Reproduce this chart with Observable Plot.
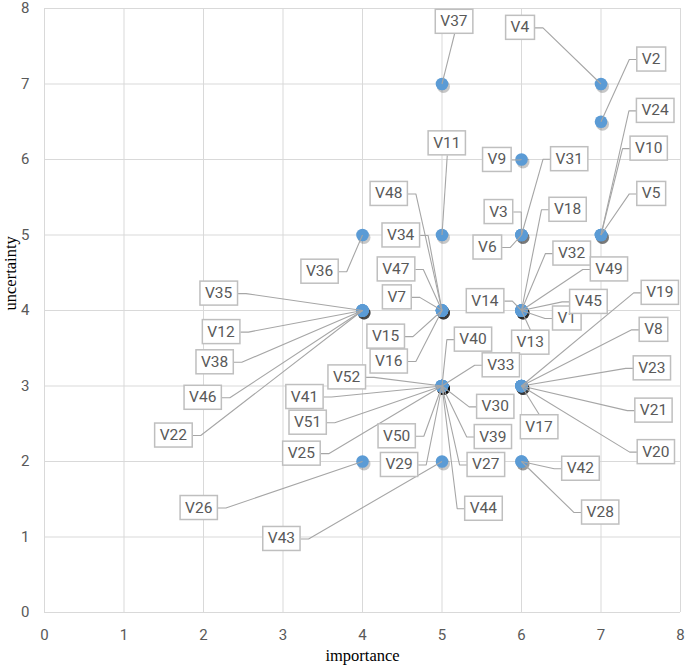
<!DOCTYPE html>
<html><head><meta charset="utf-8">
<script src="https://cdn.jsdelivr.net/npm/d3@7"></script>
<script src="https://cdn.jsdelivr.net/npm/@observablehq/plot@0.6"></script>
<style>body{margin:0;background:#fff} #chart svg{display:block}</style>
</head><body><div id="chart"></div>
<script>
const names = ["V1","V2","V3","V4","V5","V6","V7","V8","V9","V10","V11","V12","V13","V14","V15","V16","V17","V18","V19","V20","V21","V22","V23","V24","V25","V26","V27","V28","V29","V30","V31","V32","V33","V34","V35","V36","V37","V38","V39","V40","V41","V42","V43","V44","V45","V46","V47","V48","V49","V50","V51","V52"];
const importance = [6,7,6,7,7,6,5,6,6,7,5,4,6,6,5,5,6,6,6,6,6,4,6,7,5,4,5,6,5,5,6,6,5,5,4,4,5,4,5,5,5,6,5,5,6,4,5,5,6,5,5,5];
const uncertainty = [4,6.5,5,7,5,5,4,3,6,5,5,4,4,4,4,4,3,4,3,3,3,4,3,5,3,2,3,2,3,3,5,4,3,4,4,5,7,4,3,3,3,2,2,3,4,4,4,4,4,3,3,3];
// label anchor positions (in data units)
const labelX = [6.57,7.63,5.71,5.98,7.63,5.57,4.43,7.66,5.69,7.60,5.06,2.22,6.11,5.54,4.29,4.33,6.22,6.58,7.74,7.69,7.66,1.62,7.64,7.68,3.23,1.94,5.55,6.99,4.46,5.67,6.60,6.63,5.74,4.48,2.19,3.46,5.15,2.14,5.64,5.39,3.27,6.74,2.98,5.52,6.84,1.99,4.42,4.33,7.10,4.43,3.31,3.80];
const labelY = [3.90,7.33,5.31,7.75,5.55,4.84,4.18,3.75,6.00,6.15,6.22,3.72,3.58,4.13,3.66,3.33,2.46,5.34,4.24,2.13,2.68,2.35,3.24,6.65,2.11,1.39,1.96,1.33,1.96,2.73,6.01,4.76,3.28,5.00,4.23,4.52,7.83,3.32,2.33,3.62,2.86,1.91,0.98,1.38,4.12,2.85,4.55,5.55,4.55,2.34,2.52,3.12];
const xTicks = [0,1,2,3,4,5,6,7,8];
const yTicks = [0,1,2,3,4,5,6,7,8];
const xTitle = "importance";
const yTitle = "uncertainty";

const data = names.map((name, i) => ({name, x: importance[i], y: uncertainty[i], lx: labelX[i], ly: labelY[i]}));

const chart = Plot.plot({
  width: 685, height: 669,
  marginLeft: 44, marginRight: 5, marginTop: 8, marginBottom: 57,
  style: {fontFamily: "Roboto, sans-serif", background: "#fff"},
  x: {domain: [0, 8]},
  y: {domain: [0, 8]},
  marks: [
    Plot.gridX(xTicks, {stroke: "#d9d9d9", strokeOpacity: 1, strokeWidth: 1}),
    Plot.gridY(yTicks, {stroke: "#d9d9d9", strokeOpacity: 1, strokeWidth: 1}),
    Plot.axisX(xTicks, {tickSize: 0, tickPadding: 17, label: null, fontSize: 15, fill: "#595959", tickFormat: d3.format("d")}),
    Plot.axisY(yTicks, {tickSize: 0, tickPadding: 15, label: null, fontSize: 15, fill: "#595959", tickFormat: d3.format("d")}),
    Plot.dot(data, {x: "x", y: "y", r: 6.5, fill: "#000", fillOpacity: 0.22, dx: 1.5, dy: 2.5}),
    Plot.dot(data, {x: "x", y: "y", r: 6.3, fill: "#5b9bd5"}),
    Plot.link(data, {x1: "lx", y1: "ly", x2: "x", y2: "y", stroke: "#a6a6a6", strokeWidth: 1.1}),
    Plot.text(data, {x: "lx", y: "ly", text: "name", fill: "#595959", fontSize: 15.5}),
    Plot.text([xTitle], {frameAnchor: "bottom", dy: 48, fontFamily: "'Liberation Serif', serif", fontSize: 16.5, fill: "#000"}),
    Plot.text([yTitle], {frameAnchor: "left", rotate: -90, dx: -34, fontFamily: "'Liberation Serif', serif", fontSize: 16.5, fill: "#000"})
  ]
});
document.getElementById("chart").append(chart);

const svgBox = chart.getBoundingClientRect();
const labelTexts = [...chart.querySelectorAll("text")].filter(t => /^V\d+$/.test(t.textContent));
const linkPaths = [...chart.querySelectorAll('g[aria-label="link"] path')];
const padX = 5, padY = 3, stub = 8;

labelTexts.forEach((t, i) => {
  // box behind the label
  const b = t.getBBox();
  const r = document.createElementNS("http://www.w3.org/2000/svg", "rect");
  r.setAttribute("x", b.x - padX);
  r.setAttribute("y", b.y - padY);
  r.setAttribute("width", b.width + 2 * padX);
  r.setAttribute("height", b.height + 2 * padY);
  r.setAttribute("fill", "#fff");
  r.setAttribute("stroke", "#bfbfbf");
  r.setAttribute("stroke-width", "1.5");
  const tr = t.getAttribute("transform");
  if (tr) r.setAttribute("transform", tr);
  t.parentNode.insertBefore(r, t);

  // leader line: attach to the nearest side of the box, with a short horizontal elbow
  const p = linkPaths[i];
  if (!p) return;
  const nums = p.getAttribute("d").match(/-?\d*\.?\d+(?:e-?\d+)?/g).map(Number);
  const px = nums[nums.length - 2], py = nums[nums.length - 1];
  const rb = r.getBoundingClientRect();
  const x0 = rb.left - svgBox.left, x1 = rb.right - svgBox.left;
  const y0 = rb.top - svgBox.top, y1 = rb.bottom - svgBox.top;
  const cx = (x0 + x1) / 2, cy = (y0 + y1) / 2;
  let d;
  if (px > x1) d = `M${x1},${cy}L${x1 + stub},${cy}L${px},${py}`;
  else if (px < x0) d = `M${x0},${cy}L${x0 - stub},${cy}L${px},${py}`;
  else if (py > y1) d = `M${cx},${y1}L${px},${py}`;
  else d = `M${cx},${y0}L${px},${py}`;
  p.setAttribute("d", d);
  p.setAttribute("fill", "none");
});
</script>
</body></html>
